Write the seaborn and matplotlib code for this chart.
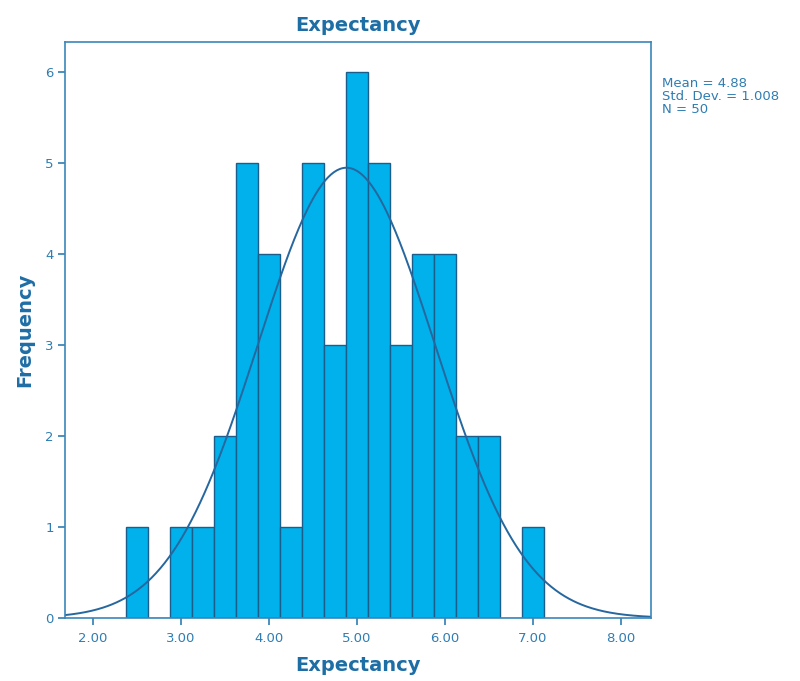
import numpy as np
import pandas as pd
import matplotlib
matplotlib.use("Agg")
import matplotlib.pyplot as plt
import seaborn as sns

# histogram bins (bin width 0.25)
bin_edges = [2.375 + 0.25 * i for i in range(20)]
bin_counts = [1, 0, 1, 1, 2, 5, 4, 1, 5, 3, 6, 5, 3, 4, 4, 2, 2, 0, 1]
mean_val = 4.88
std_val = 1.008
n_val = 50

x_ticks = [2, 3, 4, 5, 6, 7, 8]
y_ticks = [0, 1, 2, 3, 4, 5, 6]

bar_color = "#00B1EB"
edge_color = "#1B5E8C"
text_color = "#2F7DB3"
title_color = "#1E6EA6"

sns.set_style("white")
plt.rcParams["font.family"] = ["DejaVu Sans"]

centers = [(bin_edges[i] + bin_edges[i + 1]) / 2 for i in range(len(bin_counts))]
df = pd.DataFrame({"Expectancy": centers, "count": bin_counts})

fig = plt.figure(figsize=(8, 6.81), dpi=100)
ax = fig.add_axes([0.081, 0.0925, 0.733, 0.846])

sns.histplot(
    data=df, x="Expectancy", weights="count", bins=bin_edges,
    color=bar_color, edgecolor=edge_color, linewidth=1.0, alpha=1.0, ax=ax,
)

# normal curve scaled to counts
xs = np.linspace(1.678, 8.345, 400)
bw = bin_edges[1] - bin_edges[0]
ys = n_val * bw / (std_val * np.sqrt(2 * np.pi)) * np.exp(-0.5 * ((xs - mean_val) / std_val) ** 2)
sns.lineplot(x=xs, y=ys, color="#25679E", linewidth=1.4, ax=ax)

ax.set_xlim(1.678, 8.345)
ax.set_ylim(0, 6.33)
ax.set_xticks(x_ticks)
ax.set_xticklabels([f"{t:.2f}" for t in x_ticks])
ax.set_yticks(y_ticks)
ax.tick_params(axis="both", direction="out", length=5, width=1.2,
               colors=text_color, labelsize=9.5, pad=3,
               bottom=True, left=True, top=False, right=False)
ax.tick_params(axis="x", pad=5)

for s in ax.spines.values():
    s.set_color("#3B86BA")
    s.set_linewidth(1.2)

ax.set_title("Expectancy", fontsize=14, fontweight="bold", color=title_color, pad=8)
ax.set_xlabel("Expectancy", fontsize=14, fontweight="bold", color=title_color, labelpad=8)
ax.set_ylabel("Frequency", fontsize=14, fontweight="bold", color=title_color, labelpad=8)

fig.text(0.827, 0.887,
         f"Mean = {mean_val:.2f}\nStd. Dev. = {std_val:.3f}\nN = {n_val}",
         fontsize=9.5, color=text_color, va="top", ha="left", linespacing=1.0)

fig.savefig("out.png", dpi=100)
